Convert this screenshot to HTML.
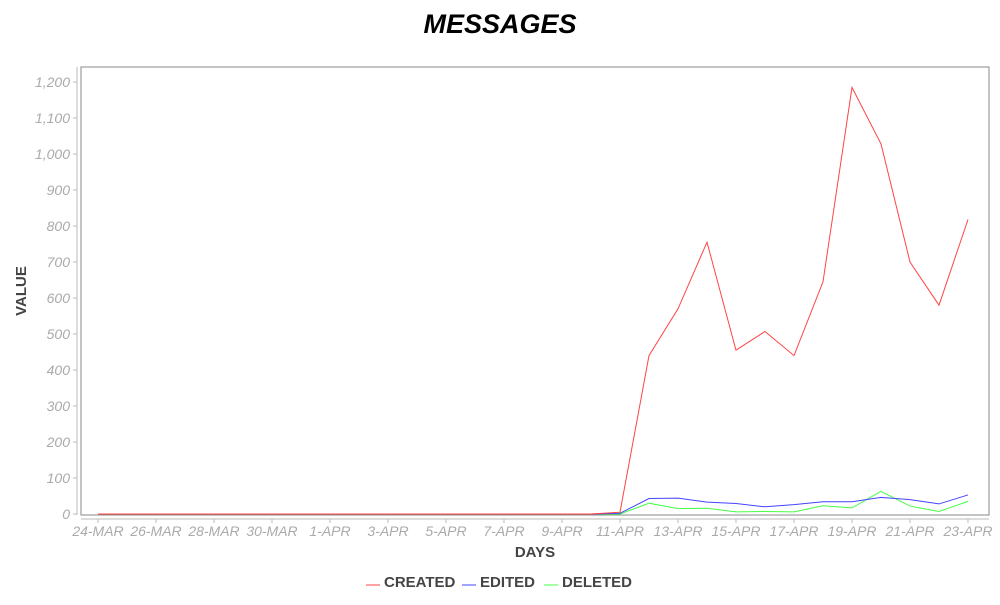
<!DOCTYPE html>
<html><head><meta charset="utf-8"><style>
body{margin:0;background:#fff;width:1000px;height:600px;overflow:hidden;font-family:"Liberation Sans",sans-serif}
</style></head><body>
<svg width="1000" height="600">
<text x="500" y="33" text-anchor="middle" font-size="27" font-weight="bold" font-style="italic" fill="#000">MESSAGES</text>
<rect x="81" y="67" width="908" height="448" fill="none" stroke="#888"/>
<g id="axes"></g>
<g id="series"></g>
<text x="535" y="557" text-anchor="middle" font-size="15" font-weight="bold" fill="#444">DAYS</text>
<text transform="translate(26,291) rotate(-90)" text-anchor="middle" font-size="15" font-weight="bold" fill="#444">VALUE</text>
<g font-size="15" font-weight="bold" fill="#444">
<g><line x1="366" y1="585" x2="380" y2="585" stroke="#ff4444"/><text x="384" y="587">CREATED</text></g>
<g><line x1="462" y1="585" x2="476" y2="585" stroke="#4444ff"/><text x="480" y="587">EDITED</text></g>
<g><line x1="544" y1="585" x2="558" y2="585" stroke="#44ff44"/><text x="562" y="587">DELETED</text></g>
</g>
</svg>
<script>
const days=["24-MAR","25-MAR","26-MAR","27-MAR","28-MAR","29-MAR","30-MAR","31-MAR","1-APR","2-APR","3-APR","4-APR","5-APR","6-APR","7-APR","8-APR","9-APR","10-APR","11-APR","12-APR","13-APR","14-APR","15-APR","16-APR","17-APR","18-APR","19-APR","20-APR","21-APR","22-APR","23-APR"];
const created=[0,0,0,0,0,0,0,0,0,0,0,0,0,0,0,0,0,0,5,440,570,755,455,507,440,645,1185,1028,700,580,818];
const edited=[0,0,0,0,0,0,0,0,0,0,0,0,0,0,0,0,0,0,2,43,44,33,29,20,26,34,34,46,40,28,53];
const deleted=[0,0,0,0,0,0,0,0,0,0,0,0,0,0,0,0,0,0,0,30,15,16,6,7,6,23,17,63,22,7,35];
const yTicks=[0,100,200,300,400,500,600,700,800,900,1000,1100,1200];
const NS="http://www.w3.org/2000/svg";
const xs=i=>98+i*(870/(days.length-1));
const ys=v=>514-v*(432/1200);
const ax=document.getElementById('axes');
function mk(t,a,p){const e=document.createElementNS(NS,t);for(const k in a)e.setAttribute(k,a[k]);p.appendChild(e);return e;}
let l=mk('line',{x1:77,y1:67,x2:77,y2:515,stroke:'#bbb'},ax);


l=mk('line',{x1:81,y1:519,x2:989,y2:519,stroke:'#bbb'},ax);


yTicks.forEach(v=>{
 const y=ys(v);
 mk('line',{x1:73,y1:y,x2:77,y2:y,stroke:'#bbb'},ax);
 const t=mk('text',{x:70,y:y+5,'text-anchor':'end','font-size':14,'font-style':'italic',fill:'#aaa'},ax);
 t.textContent=v.toLocaleString('en-US');
 
 
});
days.forEach((d,i)=>{
 if(i%2)return;
 const x=xs(i);
 mk('line',{x1:x,y1:519,x2:x,y2:523,stroke:'#bbb'},ax);
 const t=mk('text',{x:x,y:536,'text-anchor':'middle','font-size':14,'font-style':'italic',fill:'#aaa'},ax);
 t.textContent=d;
 
 
});
const sg=document.getElementById('series');
[[deleted,'#44ff44','series-deleted'],[edited,'#4444ff','series-edited'],[created,'#ff4444','series-created']].forEach(([arr,c,n])=>{
 const p=mk('polyline',{points:arr.map((v,i)=>xs(i)+','+ys(v)).join(' '),fill:'none',stroke:c,'stroke-width':1},sg);
 
 
});
</script>
</body></html>
